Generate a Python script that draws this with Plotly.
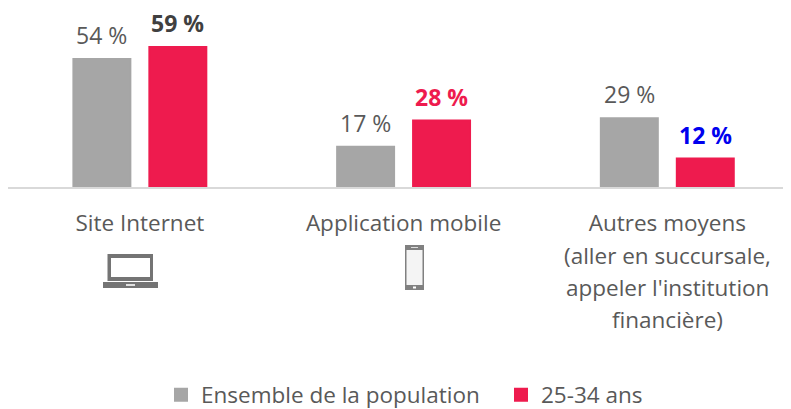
import plotly.graph_objects as go

categories = ["Site Internet", "Application mobile", "Autres moyens"]
extra_lines = ["(aller en succursale,", "appeler l'institution", "financière)"]
population = [54, 17, 29]
young = [59, 28, 12]
names = ["Ensemble de la population", "25-34 ans"]
young_label_colors = ["#404040", "#EE1B4E", "#0000EE"]
GREY, RED, TXT = "#A6A6A6", "#EE1B4E", "#595959"
FONT = "Open Sans"
W, H = 783, 401          # page adds an 8 px body margin
PLOT_H = 179
B = H - PLOT_H

fig = go.Figure()
fig.add_bar(name=names[0], x=categories, y=population, marker_color=GREY,
            marker_line=dict(color=GREY, width=2), cliponaxis=False,
            legend="legend", showlegend=True)
fig.add_bar(name=names[1], x=categories, y=young, marker_color=RED,
            marker_line=dict(color=RED, width=2), cliponaxis=False,
            legend="legend2", showlegend=True)

annotations = []
for c, v in zip(categories, population):
    annotations.append(dict(text=f"{v} %", x=c, y=v, xref="x", yref="y", xshift=-38, yshift=6,
                            yanchor="bottom", showarrow=False,
                            font=dict(family=FONT, size=23, color=TXT)))
for c, v, col in zip(categories, young, young_label_colors):
    annotations.append(dict(text=f"<b>{v} %</b>", x=c, y=v, xref="x", yref="y", xshift=38, yshift=6,
                            yanchor="bottom", showarrow=False,
                            font=dict(family=FONT, size=23, color=col)))
for i, line in enumerate(extra_lines):
    annotations.append(dict(text=line, x=categories[2], xref="x", yref="paper",
                            y=(187 - (256 + i * 31.7)) / PLOT_H, yanchor="middle",
                            showarrow=False,
                            font=dict(family=FONT, size=22.5, color=TXT)))

shapes = []
def rect(x0, y0, x1, y1, color):
    shapes.append(dict(type="rect", xref="paper", yref="paper",
                       x0=(x0 - 8) / W, x1=(x1 - 8) / W,
                       y0=(187 - y0) / PLOT_H, y1=(187 - y1) / PLOT_H,
                       fillcolor=color, line_width=0, layer="above"))
# laptop icon
rect(107.5, 254, 153, 281, "#747474")
rect(111, 258, 150, 277, "#FFFFFF")
rect(103, 282, 158, 288, "#747474")
rect(126, 284, 135, 286, "#E0E0E0")
# phone icon
rect(405, 245, 424, 290, "#808080")
rect(406.5, 250, 422.5, 285, "#F4F4F4")
rect(411, 247, 418, 248, "#DDDDDD")
rect(413, 286.5, 416, 288.5, "#FFFFFF")

leg_common = dict(orientation="h", xanchor="left", yanchor="middle",
                  xref="container", yref="container",
                  y=1 - (395 - 8) / H,
                  font=dict(family=FONT, size=22.5, color=TXT), itemwidth=30,
                  bgcolor="rgba(0,0,0,0)")

fig.update_layout(
    width=W, height=H, margin=dict(l=0, r=0, t=0, b=B),
    paper_bgcolor="white", plot_bgcolor="white",
    showlegend=True,
    barmode="group", bargap=0.424, bargroupgap=0.25,
    font=dict(family=FONT, color=TXT, size=22.5),
    xaxis=dict(type="category", range=[-0.5, 2.469], showline=True,
               linecolor="#D9D9D9", linewidth=2, ticks="", showgrid=False,
               tickfont=dict(family=FONT, size=22.5, color=TXT),
               ticklabelstandoff=15),
    yaxis=dict(range=[0, 75.5], visible=False),
    legend=dict(x=(161 - 8) / W, **leg_common),
    legend2=dict(x=(501 - 8) / W, **leg_common),
    shapes=shapes, annotations=annotations,
)
fig.write_html("out.html")
